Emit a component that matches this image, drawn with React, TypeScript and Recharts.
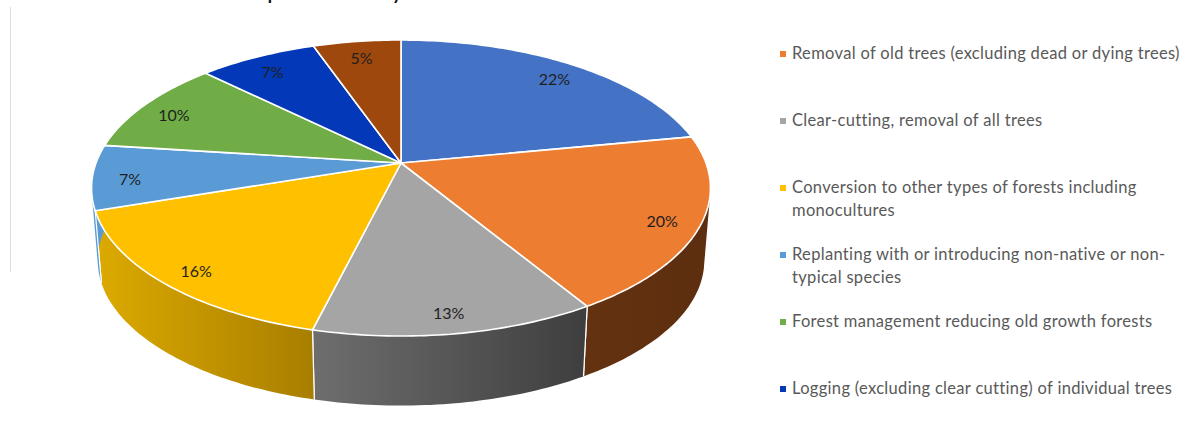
// App.tsx - old forest pressures, tilted 3D pie
import React from "react";
import { PieChart, Pie, Legend } from "recharts";

const categories = [
  "Other (not legible)",
  "Removal of old trees (excluding dead or dying trees)",
  "Clear-cutting, removal of all trees",
  "Conversion to other types of forests including monocultures",
  "Replanting with or introducing non-native or non-typical species",
  "Forest management reducing old growth forests",
  "Logging (excluding clear cutting) of individual trees",
  "Other pressures",
];
// slice sizes; the printed labels are kept as they read
const shares = [22, 19.25, 12.65, 16, 7.1, 10.3, 7.3, 5.4];
const percentLabels = ["22%", "20%", "13%", "16%", "7%", "10%", "7%", "5%"];
const topColors = ["#4472c4", "#ed7d31", "#a5a5a5", "#ffc000", "#5b9bd5", "#70ad47", "#0339b8", "#9e480e"];
const wallFrom = ["#2f5597", "#643210", "#6e6e6e", "#dcaa00", "#5b9bd5", "#4e7a32", "#022a85", "#6e330a"];
const wallTo = ["#2f5597", "#5c2e0f", "#3e3e3e", "#a87e00", "#5b9bd5", "#4e7a32", "#022a85", "#6e330a"];

const table = categories.map((name, i) => ({
  id: i,
  name,
  value: shares[i],
  label: percentLabels[i],
  fill: topColors[i],
  wallFrom: wallFrom[i],
  wallTo: wallTo[i],
}));

// perspective of the tilted disc
const TILT = 0.169;
const SQUASH = 143.8 / 305;
const DEPTH = 73;
const BASE_SCALE = 0.98;

type Pt = { x: number; y: number };

function project(cx: number, cy: number, r: number, deg: number, t = 1, scale = 1, drop = 0) {
  const rad = (deg * Math.PI) / 180;
  const X = Math.cos(rad) * t;
  const Y = -Math.sin(rad) * t;
  const w = 1 - TILT * Y;
  return {
    x: cx + (r * X * scale) / w,
    y: cy + (r * SQUASH * Y * scale) / w + drop,
  };
}

function arcPoints(p: any, scale = 1, drop = 0) {
  const steps = Math.max(2, Math.ceil(Math.abs(p.endAngle - p.startAngle)));
  const pts: Pt[] = [];
  for (let i = 0; i <= steps; i++) {
    const deg = p.startAngle + ((p.endAngle - p.startAngle) * i) / steps;
    pts.push(project(p.cx, p.cy, p.outerRadius, deg, 1, scale, drop));
  }
  return pts;
}

const toPath = (pts: Pt[]) => pts.map((q) => `${q.x.toFixed(1)} ${q.y.toFixed(1)}`).join(" L ");

// same winding for every quad, so that the nonzero fill gives their union
function wound(quad: Pt[]) {
  let area = 0;
  quad.forEach((q, i) => {
    const n = quad[(i + 1) % quad.length];
    area += q.x * n.y - n.x * q.y;
  });
  return area < 0 ? [...quad].reverse() : quad;
}

function TopFace(props: any) {
  const pts = arcPoints(props);
  return (
    <path
      d={`M ${props.cx} ${props.cy} L ${toPath(pts)} Z`}
      fill={props.fill}
      stroke="#ffffff"
      strokeWidth={1.6}
      strokeLinejoin="round"
    />
  );
}

function WallFace(props: any) {
  const top = arcPoints(props);
  const bottom = arcPoints(props, BASE_SCALE, DEPTH);
  const id = `wall-${props.id ?? props.payload?.id}`;
  const from = props.wallFrom ?? props.payload?.wallFrom;
  const to = props.wallTo ?? props.payload?.wallTo;
  const xs = [...top, ...bottom].map((q) => q.x);
  const last = top.length - 1;
  const d = top
    .slice(0, last)
    .map((q, i) => `M ${toPath(wound([q, top[i + 1], bottom[i + 1], bottom[i]]))} Z`)
    .join(" ");
  return (
    <g>
      <defs>
        <linearGradient id={id} gradientUnits="userSpaceOnUse" x1={Math.min(...xs)} y1={0} x2={Math.max(...xs)} y2={0}>
          <stop offset="0" stopColor={from} />
          <stop offset="1" stopColor={to} />
        </linearGradient>
      </defs>
      <path d={d} fill={`url(#${id})`} fillRule="nonzero" />
      <path d={`M ${toPath([top[0], bottom[0]])}`} stroke="#ffffff" strokeWidth={1.2} fill="none" />
      <path d={`M ${toPath([top[last], bottom[last]])}`} stroke="#ffffff" strokeWidth={1.2} fill="none" />
    </g>
  );
}

function SliceLabel(props: any) {
  const q = project(props.cx, props.cy, props.outerRadius, props.midAngle, 0.88);
  return (
    <text x={q.x} y={q.y + 3} textAnchor="middle" dominantBaseline="central" fontFamily="Lato" fontSize={16} fill="#1f1f1f">
      {props.label ?? props.payload?.label}
    </text>
  );
}

function LegendList({ payload }: any) {
  // the wall pie is in the payload too, and the picture is cut after the sixth row
  const rows = (payload ?? []).filter((row: any) => row.type !== "none").slice(1, 7);
  return (
    <div>
      {rows.map((row: any) => (
        <div key={row.value} style={{ height: 67, display: "flex", alignItems: "flex-start" }}>
          <span
            style={{ width: 6, height: 6, marginTop: 9, marginRight: 6, flex: "none", background: row.payload?.fill ?? row.color }}
          />
          <span style={{ fontFamily: "Lato", fontSize: 16.5, lineHeight: "23px", color: "#595959", letterSpacing: 0.32 }}>{row.value}</span>
        </div>
      ))}
    </div>
  );
}

export default function App() {
  return (
    <div style={{ position: "absolute", left: 0, top: 0, width: 1200, height: 446, overflow: "hidden", background: "#fff" }}>
      <div
        style={{
          position: "absolute",
          left: 35,
          top: -27,
          fontFamily: "Lato",
          fontSize: 25,
          lineHeight: "32px",
          color: "#111",
          whiteSpace: "nowrap",
        }}
      >
        Sources of old forest pressures by human interventions
      </div>
      <div style={{ position: "absolute", left: 10, top: 7, width: 1, height: 265, background: "#dddddd" }} />
      <PieChart width={1200} height={446} margin={{ top: 0, right: 0, bottom: 0, left: 0 }}>
        <Pie
          data={table}
          dataKey="value"
          nameKey="name"
          cx={401}
          cy={163}
          outerRadius={305}
          startAngle={90}
          endAngle={-270}
          legendType="none"
          shape={WallFace}
          isAnimationActive={false}
        />
        <Pie
          data={table}
          dataKey="value"
          nameKey="name"
          cx={401}
          cy={163}
          outerRadius={305}
          startAngle={90}
          endAngle={-270}
          shape={TopFace}
          label={SliceLabel}
          labelLine={false}
          isAnimationActive={false}
        />
        <Legend
          layout="vertical"
          content={LegendList}
          itemSorter={null}
          wrapperStyle={{ left: 780, top: 42, width: 416, bottom: "auto", right: "auto" }}
        />
      </PieChart>
    </div>
  );
}
